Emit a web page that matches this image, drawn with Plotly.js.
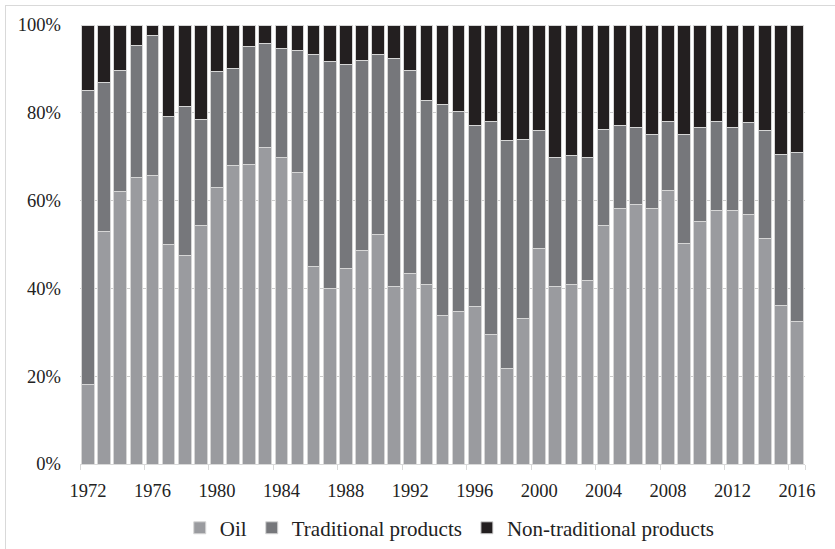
<!DOCTYPE html>
<html>
<head>
<meta charset="utf-8">
<script src="https://cdn.plot.ly/plotly-3.0.1.min.js"></script>
<style>
  html, body { margin: 0; padding: 0; background: #fff; }
  #wrap { position: relative; width: 835px; height: 549px; }
  #chart { width: 835px; height: 549px; }
  #frame { position: absolute; left: 5px; top: 5px; right: -2px; bottom: -2px;
           border-left: 1px solid #d9d9d9; border-top: 1px solid #d9d9d9; pointer-events: none; }
</style>
</head>
<body>
<div id="wrap"><div id="chart"></div><div id="frame"></div></div>
<script>
const years = [1972,1973,1974,1975,1976,1977,1978,1979,1980,1981,1982,1983,1984,1985,1986,1987,1988,1989,1990,1991,1992,1993,1994,1995,1996,1997,1998,1999,2000,2001,2002,2003,2004,2005,2006,2007,2008,2009,2010,2011,2012,2013,2014,2015,2016];
const oil = [18.2,52.9,62.0,65.3,65.7,49.9,47.6,54.4,63.0,68.0,68.3,72.1,69.8,66.4,45.0,40.0,44.6,48.7,52.2,40.4,43.4,40.8,33.9,34.7,35.8,29.4,21.8,33.2,49.0,40.4,40.8,41.9,54.4,58.1,59.2,58.1,62.2,50.2,55.2,57.7,57.7,56.9,51.3,36.2,32.4];
const traditional = [66.8,33.9,27.7,30.1,32.0,29.3,33.9,24.0,26.4,22.1,26.8,23.7,24.9,27.9,48.2,51.6,46.3,43.3,41.0,52.0,46.3,42.1,47.9,45.7,41.2,48.7,51.8,40.8,26.9,29.4,29.4,27.9,21.8,18.9,17.4,17.0,15.9,24.9,21.4,20.4,18.9,20.9,24.6,34.3,38.5];
const nonTraditional = [15.0,13.2,10.3,4.6,2.3,20.8,18.5,21.6,10.6,9.9,4.9,4.2,5.3,5.7,6.8,8.4,9.1,8.0,6.8,7.6,10.3,17.1,18.2,19.6,23.0,21.9,26.4,26.0,24.1,30.2,29.8,30.2,23.8,23.0,23.4,24.9,21.9,24.9,23.4,21.9,23.4,22.2,24.1,29.5,29.1];
const seriesNames = ["Oil", "Traditional products", "Non-traditional products"];
const tickYears = [1972,1976,1980,1984,1988,1992,1996,2000,2004,2008,2012,2016];
const yTickVals = [0,20,40,60,80,100];
const yTickText = ["0%","20%","40%","60%","80%","100%"];

const colors = ["#9a9b9f", "#76777b", "#231f20"];
const tickFont = {family: "Liberation Serif", color: "#222", size: 18.5};
const legendFont = {family: "Liberation Serif", color: "#222", size: 21};

const traces = [oil, traditional, nonTraditional].map((vals, i) => ({
  type: "bar",
  x: years,
  y: vals,
  name: seriesNames[i],
  marker: {color: colors[i], line: {color: "#d6d6d6", width: 1}},
  hoverinfo: "x+y+name"
}));

const range = [years[0] - 0.5, years[years.length - 1] + 0.5];
const boundaries = [];
for (let k = 0; k < tickYears.length; k++) boundaries.push(tickYears[k] - 0.5);
boundaries.push(years[years.length - 1] + 0.5);

const layout = {
  width: 835, height: 549,
  margin: {l: 80, r: 30, t: 25, b: 85, autoexpand: false},
  paper_bgcolor: "#fff", plot_bgcolor: "#fff",
  barmode: "stack",
  barnorm: "percent",
  bargap: 0.22,
  font: tickFont,
  showlegend: true,
  legend: {orientation: "h", xref: "paper", x: 0.51, xanchor: "center",
    yref: "container", y: 0.038, yanchor: "middle",
    font: legendFont, traceorder: "normal", itemwidth: 30},
  xaxis: {range: range, tickmode: "array", tickvals: tickYears, ticktext: tickYears.map(String),
    showgrid: false, zeroline: false, showline: true, linecolor: "#d9d9d9", linewidth: 1,
    ticks: "", tickfont: tickFont, ticklabelstandoff: 10, fixedrange: true, automargin: false,
    minor: {tickmode: "array", tickvals: boundaries, ticks: "outside", ticklen: 5,
      tickcolor: "#d9d9d9", tickwidth: 1, showgrid: false}},
  yaxis: {range: [0, 100], tickmode: "array", tickvals: yTickVals, ticktext: yTickText,
    showgrid: true, gridcolor: "#cccccc", gridwidth: 1, zeroline: false, showline: false,
    ticks: "", tickfont: tickFont, ticklabelstandoff: 18, fixedrange: true, automargin: false,
    layer: "below traces"}
};

Plotly.newPlot("chart", traces, layout, {displayModeBar: false, staticPlot: true});
</script>
</body>
</html>
